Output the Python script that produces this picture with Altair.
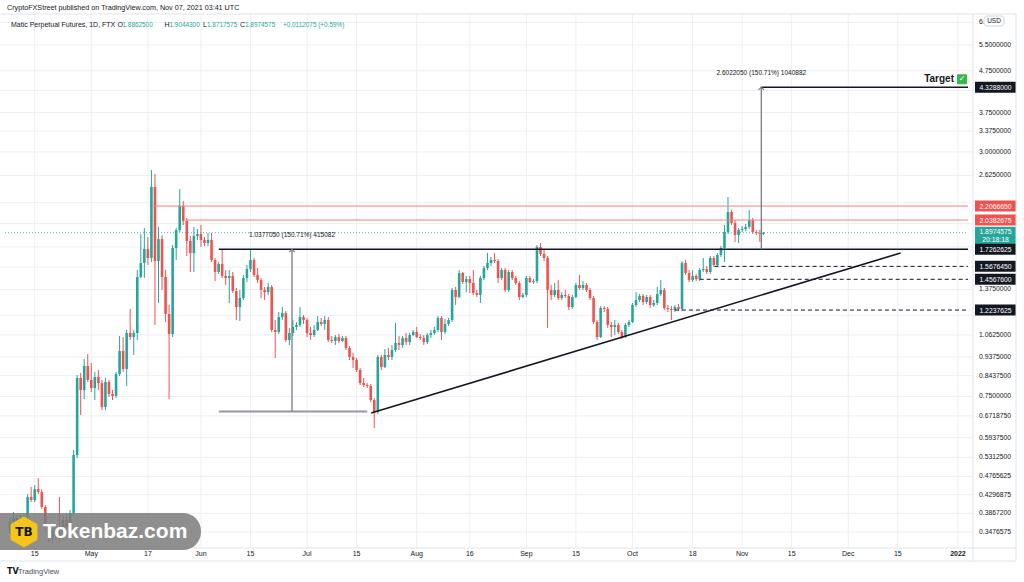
import altair as alt
import pandas as pd

# ---------------- data ----------------
START_DATE = "2021-04-08"
FIRST_OPEN = 0.3517

CLOSE = [
    0.3680, 0.3764, 0.3618, 0.3722, 0.3786, 0.4240, 0.4168, 0.4436, 0.4361, 0.4006,
    0.3577, 0.3360, 0.3517, 0.3438, 0.3360, 0.3722, 0.3577, 0.3873, 0.5380, 0.8325,
    0.7778, 0.8911, 0.8232, 0.7867, 0.8373, 0.8093, 0.7064, 0.8139, 0.7604, 0.7518,
    0.8517, 0.9703, 0.8761, 1.0746, 1.0504, 1.0746, 1.4761, 1.5980, 1.7299, 1.6439,
    2.4585, 1.6162, 1.8308, 1.4761, 1.1968, 1.0685, 1.7398, 1.9267, 2.2074, 2.0275,
    1.8102, 1.6912, 1.8622, 1.8835, 1.8205, 1.7898, 1.8205, 1.6254, 1.5185, 1.5890,
    1.4845, 1.4677, 1.4845, 1.3635, 1.2452, 1.3104, 1.4677, 1.5446, 1.6254, 1.4929,
    1.4512, 1.3712, 1.3557, 1.3947, 1.0930, 1.0807, 1.1766, 1.2036, 1.0327, 1.0746,
    1.1117, 1.1244, 1.1766, 1.1567, 1.0746, 1.0624, 1.0930, 1.1437, 1.1308, 1.1567,
    1.0327, 1.0269, 1.0504, 1.0269, 1.0445, 0.9870, 0.9378, 0.9220, 0.8712, 0.8093,
    0.8002, 0.7957, 0.7349, 0.6866, 0.9378, 0.8861, 0.9485, 0.9378, 0.9758, 1.0153,
    1.0039, 1.0445, 1.0211, 1.0624, 1.0807, 1.0504, 1.0445, 1.0211, 1.0624, 1.0746,
    1.0930, 1.1699, 1.0807, 1.1308, 1.1567, 1.3712, 1.3179, 1.5099, 1.4348, 1.4594,
    1.4267, 1.3481, 1.3329, 1.4677, 1.5534, 1.5980, 1.6254, 1.6162, 1.4677, 1.5358,
    1.3712, 1.5185, 1.4677, 1.4267, 1.3179, 1.3329, 1.4677, 1.4348, 1.4430, 1.7496,
    1.6816, 1.6439, 1.3712, 1.3329, 1.3712, 1.3104, 1.3329, 1.3254, 1.2452, 1.3179,
    1.4106, 1.3868, 1.4106, 1.3712, 1.3104, 1.1437, 1.0504, 1.2382, 1.2312, 1.1244,
    1.1117, 1.1244, 1.0807, 1.0504, 1.1244, 1.1437, 1.2594, 1.2956, 1.3254, 1.2810,
    1.3179, 1.2594, 1.2738, 1.3404, 1.3712, 1.2382, 1.2312, 1.2242, 1.2452, 1.2312,
    1.5980, 1.5099, 1.4512, 1.4845, 1.4594, 1.5358, 1.5446, 1.5185, 1.6439, 1.5800,
    1.6721, 1.7398, 1.9050, 2.1336, 2.0046, 1.8728, 1.9267, 1.9376, 1.9597, 2.0390,
    1.9050, 1.8942, 1.88625, 1.8974575,
]
HIGH = [
    0.3764, 0.3895, 0.3829, 0.3829, 0.3851, 0.4312, 0.4487, 0.4538, 0.4722, 0.4436,
    0.4052, 0.3639, 0.3557, 0.3577, 0.4240, 0.3829, 0.3829, 0.3939, 0.5535, 0.8468,
    0.8565, 0.9272, 0.9539, 0.9065, 0.8614, 0.8712, 0.8232, 0.8325, 0.8232, 0.7778,
    0.8614, 1.0564, 1.0504, 1.0930, 1.2312, 1.0930, 1.5358, 1.8835, 1.9486, 1.8517,
    2.7072, 2.6465, 1.9597, 1.8728, 1.5358, 1.2594, 1.7696, 1.9486, 2.4307, 2.2709,
    2.0622, 1.8622, 1.9597, 1.9376, 1.9820, 1.8517, 1.8942, 1.8942, 1.6439, 1.6071,
    1.7299, 1.5358, 1.5358, 1.5185, 1.3868, 1.3712, 1.4929, 1.5800, 1.7202, 1.6439,
    1.5534, 1.4677, 1.3947, 1.4267, 1.4106, 1.1567, 1.2104, 1.2452, 1.2173, 1.1054,
    1.1567, 1.1437, 1.2452, 1.1900, 1.1699, 1.1117, 1.1244, 1.1833, 1.1699, 1.1833,
    1.1766, 1.0564, 1.0624, 1.0685, 1.0564, 1.0564, 0.9982, 0.9593, 0.9325, 0.8811,
    0.8325, 0.8093, 0.8047, 0.7434, 0.9485, 0.9485, 0.9814, 0.9870, 1.0039, 1.1372,
    1.0564, 1.0564, 1.0746, 1.0746, 1.0930, 1.1117, 1.0685, 1.0624, 1.0746, 1.0930,
    1.1117, 1.1833, 1.1833, 1.1633, 1.1699, 1.3868, 1.3947, 1.5358, 1.5185, 1.4845,
    1.4845, 1.5358, 1.3712, 1.4845, 1.5711, 1.6912, 1.6533, 1.6912, 1.6346, 1.5534,
    1.5534, 1.5358, 1.5358, 1.4845, 1.4430, 1.3481, 1.4845, 1.4845, 1.4594, 1.7696,
    1.7898, 1.7202, 1.6627, 1.4106, 1.4267, 1.4512, 1.3557, 1.3712, 1.3404, 1.3329,
    1.4267, 1.4929, 1.4430, 1.4267, 1.3868, 1.3254, 1.1567, 1.2523, 1.2523, 1.2452,
    1.1437, 1.1567, 1.1372, 1.0930, 1.1372, 1.1567, 1.2738, 1.3557, 1.3404, 1.3404,
    1.3329, 1.3329, 1.2956, 1.3947, 1.4512, 1.3868, 1.2594, 1.2523, 1.2594, 1.2665,
    1.6162, 1.6254, 1.5358, 1.5358, 1.5014, 1.5534, 1.6439, 1.5711, 1.6627, 1.6627,
    1.6912, 1.7596, 1.9820, 2.3229, 2.1579, 2.0390, 1.9486, 1.9708, 1.9933, 2.1579,
    2.0622, 1.9267, 1.9267, 1.90443,
]
LOW = [
    0.3458, 0.3618, 0.3517, 0.3557, 0.3639, 0.3743, 0.4121, 0.4121, 0.4312, 0.3961,
    0.3517, 0.3286, 0.3267, 0.3323, 0.3286, 0.3323, 0.3517, 0.3380, 0.3829, 0.5289,
    0.6750, 0.7392, 0.8139, 0.7690, 0.7349, 0.7778, 0.6944, 0.6944, 0.7476, 0.7349,
    0.7434, 0.8420, 0.8614, 0.7957, 1.0327, 0.9485, 1.0327, 1.4677, 1.4677, 1.5800,
    1.6071, 1.1244, 1.2738, 1.3712, 1.1437, 0.7392, 1.0504, 1.6254, 1.9050, 1.9820,
    1.6627, 1.5185, 1.5185, 1.8205, 1.7496, 1.7596, 1.7596, 1.6071, 1.4430, 1.5014,
    1.4677, 1.4106, 1.2738, 1.3481, 1.1567, 1.1502, 1.2956, 1.4348, 1.5185, 1.4761,
    1.4267, 1.3104, 1.2956, 1.3329, 1.0807, 0.9325, 1.0685, 1.1567, 1.0211, 1.0039,
    1.0564, 1.0930, 1.1117, 1.1308, 1.0504, 1.0327, 1.0504, 1.0868, 1.1180, 1.0930,
    1.0211, 1.0153, 1.0039, 1.0153, 1.0211, 0.9758, 0.9220, 0.8811, 0.8614, 0.8002,
    0.7912, 0.7867, 0.7266, 0.6270, 0.6788, 0.8712, 0.8811, 0.9220, 0.9220, 0.9648,
    0.9758, 0.9870, 1.0039, 1.0039, 1.0564, 1.0445, 1.0327, 1.0039, 1.0095, 1.0445,
    1.0624, 1.0807, 1.0327, 1.0685, 1.1180, 1.1437, 1.2594, 1.3104, 1.4187, 1.3557,
    1.3481, 1.3329, 1.3179, 1.2738, 1.4512, 1.5358, 1.5711, 1.5980, 1.4267, 1.4512,
    1.3557, 1.3557, 1.4512, 1.4106, 1.2956, 1.3104, 1.3179, 1.4267, 1.4187, 1.4267,
    1.6627, 1.6162, 1.1054, 1.2956, 1.3179, 1.2956, 1.2956, 1.3104, 1.2242, 1.2312,
    1.3104, 1.3712, 1.3712, 1.3557, 1.2956, 1.1308, 1.0327, 1.0445, 1.2104, 1.1054,
    1.0504, 1.0624, 1.0685, 1.0386, 1.0445, 1.1117, 1.1372, 1.2452, 1.2810, 1.2594,
    1.2665, 1.2382, 1.2452, 1.2594, 1.3254, 1.2242, 1.2104, 1.1567, 1.2104, 1.2173,
    1.2173, 1.4929, 1.4348, 1.4348, 1.4430, 1.4430, 1.5185, 1.5014, 1.5014, 1.5622,
    1.5711, 1.6533, 1.6071, 1.8835, 1.9820, 1.8000, 1.7898, 1.9050, 1.9158, 1.9376,
    1.8835, 1.8728, 1.8000, 1.8717575,
]

# price-scale ticks (grid) and the ones whose labels stay visible
Y_TICKS = [0.3476575, 0.38672, 0.4296875, 0.4765625, 0.53125, 0.59375, 0.671875,
           0.75, 0.84375, 0.9375, 1.0625, 1.1875, 1.375, 1.5625, 1.75, 2.0, 2.25,
           2.625, 3.0, 3.375, 3.75, 4.25, 4.75, 5.5, 6.25]
Y_HIDDEN = [1.1875, 1.5625, 1.75, 2.0, 2.25, 4.25, 6.25]
X_TICKS = ["2021-04-15", "2021-05-01", "2021-05-17", "2021-06-01", "2021-06-15",
           "2021-07-01", "2021-07-15", "2021-08-01", "2021-08-16", "2021-09-01",
           "2021-09-15", "2021-10-01", "2021-10-18", "2021-11-01", "2021-11-15",
           "2021-12-01", "2021-12-15", "2022-01-01"]
X_LABELS = ["15", "May", "17", "Jun", "15", "Jul", "15", "Aug", "16", "Sep", "15",
            "Oct", "18", "Nov", "15", "Dec", "15", "2022"]

# drawn levels (price, start date)
LEVEL_PRICE = [4.3288, 2.206665, 2.0382675, 1.7262625, 1.567645, 1.45676, 1.2237625]
LEVEL_START = ["2021-11-06T10:00:00Z", "2021-05-18T07:00:00Z", "2021-05-27T12:40:00Z",
               "2021-06-06T01:00:00Z", "2021-10-24T05:00:00Z", "2021-10-20T00:00:00Z",
               "2021-10-13T00:00:00Z"]
LEVEL_KIND = ["black", "red", "red", "black", "dash", "dash", "dash"]
LAST_PRICE = 1.8974575

# price boxes on the scale
BOX_PRICE = [4.3288, 2.206665, 2.0382675, 1.7262625, 1.567645, 1.45676, 1.2237625]
BOX_FILL = ["#131722", "#f0524f", "#f0524f", "#131722", "#131722", "#131722", "#131722"]

# measurement tool
MEAS_DATE = ["2021-06-26T18:00:00Z", "2021-11-06T10:00:00Z"]
MEAS_LO = [0.6885575, 1.7262625]
MEAS_HI = [1.7262625, 4.3288]
MEAS_TEXT = ["1.0377050 (150.71%) 415082", "2.6022050 (150.71%) 1040882"]
MEAS_BASE = ["2021-06-06T01:00:00Z", "2021-07-18T00:00:00Z"]

# rising trendline
TREND_DATE = ["2021-07-19T03:00:00Z", "2021-12-15T19:00:00Z"]
TREND_PRICE = [0.6827, 1.6912]

BEGIN = "2021-04-06T14:33:00Z"
END = "2022-01-03T20:24:00Z"

UP, DOWN, DARK, TEAL = "#26a69a", "#ef5350", "#131722", "#26a69a"
GRID = "#eceff4"
FONT = "Liberation Sans"
W, H = 973, 534

# ---------------- tables ----------------
dates = pd.date_range(START_DATE, periods=len(CLOSE), freq="D")
opens = [FIRST_OPEN] + CLOSE[:-1]
candles = pd.DataFrame({"date": dates.strftime("%Y-%m-%dT00:00:00Z"), "open": opens,
                        "close": CLOSE, "high": HIGH, "low": LOW})
candles["high"] = candles[["high", "open", "close"]].max(axis=1)
candles["low"] = candles[["low", "open", "close"]].min(axis=1)
candles["dir"] = (candles["close"] >= candles["open"]).map({True: "up", False: "down"})

levels = pd.DataFrame({"price": LEVEL_PRICE, "start": LEVEL_START, "end": END, "kind": LEVEL_KIND})
boxes = pd.DataFrame({"price": BOX_PRICE, "fill": BOX_FILL})
boxes["label"] = boxes["price"].map(lambda v: f"{v:.7f}")
last = pd.DataFrame({"price": [LAST_PRICE], "start": [BEGIN], "end": [END],
                     "label": [f"{LAST_PRICE:.7f}"], "timer": ["20:18:18"]})
meas = pd.DataFrame({"date": MEAS_DATE, "lo": MEAS_LO, "hi": MEAS_HI, "text": MEAS_TEXT})
base = pd.DataFrame({"start": [MEAS_BASE[0]], "end": [MEAS_BASE[1]], "price": [MEAS_LO[0]]})
trend = pd.DataFrame({"date": TREND_DATE, "price": TREND_PRICE})
yticks = pd.DataFrame({"price": Y_TICKS, "label": [f"{v:.7f}" for v in Y_TICKS]})
yticks["show"] = ~yticks["price"].isin(Y_HIDDEN)
xticks = pd.DataFrame({"date": [d + "T00:00:00Z" for d in X_TICKS], "label": X_LABELS})
xticks["bold"] = xticks["label"].str.len() == 4


def dt(s):
    t = pd.Timestamp(s)
    return alt.DateTime(year=t.year, month=t.month, date=t.day, hours=t.hour,
                        minutes=t.minute, utc=True)


xs = alt.Scale(type="utc", domain=[dt(BEGIN), dt(END)])
ys = alt.Scale(type="log", domain=[0.3176, 6.555])


def X(f):
    return alt.X(f, scale=xs, axis=None)


def Y(f):
    return alt.Y(f, scale=ys, axis=None)


# grid + scale labels (drawn by hand so that the price boxes can hide some)
grid_h = alt.Chart(yticks).mark_rule(color=GRID, strokeWidth=1).encode(
    x=alt.value(0), x2=alt.value(W), y=Y("price:Q"))
grid_v = alt.Chart(xticks).mark_rule(color=GRID, strokeWidth=1).encode(
    x=X("date:T"), y=alt.value(0), y2=alt.value(H))
ylabels = alt.Chart(yticks).transform_filter("datum.show").mark_text(
    align="left", baseline="middle", fontSize=6.8, color=DARK, font=FONT).encode(
    x=alt.value(W + 6), y=Y("price:Q"), text="label:N")
xlabels = alt.Chart(xticks).transform_filter("!datum.bold").mark_text(
    align="center", baseline="middle", fontSize=7, color=DARK, font=FONT).encode(
    x=X("date:T"), y=alt.value(H + 6), text="label:N")
xlabels_b = alt.Chart(xticks).transform_filter("datum.bold").mark_text(
    align="center", baseline="middle", fontSize=7, color=DARK, font=FONT,
    fontWeight="bold").encode(x=X("date:T"), y=alt.value(H + 6), text="label:N")

color_dir = alt.Color("dir:N", scale=alt.Scale(domain=["up", "down"], range=[UP, DOWN]), legend=None)

wick = alt.Chart(candles).mark_rule(strokeWidth=1).encode(
    x=X("date:T"), y=Y("low:Q"), y2="high:Q", color=color_dir)
body = alt.Chart(candles).mark_bar(size=2.6).encode(
    x=X("date:T"), y=Y("open:Q"), y2="close:Q", color=color_dir)


def hline(kind, **mk):
    return alt.Chart(levels).transform_filter(alt.datum.kind == kind).mark_rule(**mk).encode(
        x=X("start:T"), x2="end:T", y=Y("price:Q"))


red_lines = hline("red", color="#f77c80", strokeWidth=1)
black_lines = hline("black", color="#131722", strokeWidth=1.5)
dash_lines = hline("dash", color="#131722", strokeWidth=1, strokeDash=[4, 3])

last_line = alt.Chart(last).mark_rule(color=TEAL, strokeWidth=1, strokeDash=[1, 2], opacity=0.8).encode(
    x=X("start:T"), x2="end:T", y=Y("price:Q"))

trend_line = alt.Chart(trend).mark_line(color="#131722", strokeWidth=1.6).encode(
    x=X("date:T"), y=Y("price:Q"))

meas_rule = alt.Chart(meas).mark_rule(color="#787b86", strokeWidth=1.3).encode(
    x=X("date:T"), y=Y("lo:Q"), y2="hi:Q")
meas_head = alt.Chart(meas).mark_point(shape="M-1,1L0,0L1,1", filled=False, size=30,
                                       strokeWidth=1.2, color="#787b86", opacity=1).encode(
    x=X("date:T"), y=Y("hi:Q"))
meas_text = alt.Chart(meas).mark_text(fontSize=6.5, color=DARK, dy=-14, font=FONT).encode(
    x=X("date:T"), y=Y("hi:Q"), text="text:N")
meas_base = alt.Chart(base).mark_rule(color="#9598a1", strokeWidth=1.8).encode(
    x=X("start:T"), x2="end:T", y=Y("price:Q"))

last_rect = alt.Chart(last).mark_rect(yOffset=-6, y2Offset=11.5, color=TEAL).encode(
    x=alt.value(W + 2), x2=alt.value(1016), y=Y("price:Q"), y2="price:Q")
last_text = alt.Chart(last).mark_text(color="white", fontSize=6.8, font=FONT, dy=-0.5).encode(
    x=alt.value(995.5), y=Y("price:Q"), text="label:N")
last_timer = alt.Chart(last).mark_text(color="white", fontSize=6.8, font=FONT, dy=7).encode(
    x=alt.value(995.5), y=Y("price:Q"), text="timer:N")
box_rect = alt.Chart(boxes).mark_rect(yOffset=-5.5, y2Offset=5.5).encode(
    x=alt.value(W + 2), x2=alt.value(1016), y=Y("price:Q"), y2="price:Q",
    color=alt.Color("fill:N", scale=None))
box_text = alt.Chart(boxes).mark_text(color="white", fontSize=6.8, font=FONT, dy=0.5).encode(
    x=alt.value(995.5), y=Y("price:Q"), text="label:N")

target_text = alt.Chart(boxes.iloc[:1]).mark_text(
    text="Target", fontSize=10, fontWeight="bold", color=DARK, align="right", dy=-8, font=FONT).encode(
    x=alt.value(954), y=Y("price:Q"))
target_box = alt.Chart(boxes.iloc[:1]).mark_rect(color="#39b54a", yOffset=-13, y2Offset=-3,
                                                  cornerRadius=1).encode(
    x=alt.value(957), x2=alt.value(967), y=Y("price:Q"), y2="price:Q")
target_tick = alt.Chart(boxes.iloc[:1]).mark_text(
    text="✓", fontSize=8, fontWeight="bold", color="white", dy=-8, font="DejaVu Sans").encode(
    x=alt.value(962), y=Y("price:Q"))

one = pd.DataFrame({"a": [0]})


def txt(s, x, y, size=7, color=DARK, weight="normal", align="left", font=FONT):
    return alt.Chart(one).mark_text(text=s, align=align, baseline="middle", fontSize=size,
                                    color=color, fontWeight=weight, font=font).encode(
        x=alt.value(x), y=alt.value(y))


def box(x1, x2, y1, y2, **mk):
    return alt.Chart(one).mark_rect(**mk).encode(
        x=alt.value(x1), x2=alt.value(x2), y=alt.value(y1), y2=alt.value(y2))


def rule(x1, x2, y1, y2, **mk):
    return alt.Chart(one).mark_rule(**mk).encode(
        x=alt.value(x1), x2=alt.value(x2), y=alt.value(y1), y2=alt.value(y2))


header = [
    txt("CryptoFXStreet published on TradingView.com, Nov 07, 2021 03:41 UTC", 7, -6, size=7.2),
    txt("Matic Perpetual Futures, 1D, FTX", 11, 11, size=7),
    txt("O", 117.5, 11), txt("1.8862500", 122.5, 11, size=6.4, color=TEAL),
    txt("H", 164.5, 11), txt("1.9044300", 169.5, 11, size=6.4, color=TEAL),
    txt("L", 203, 11), txt("1.8717575", 207, 11, size=6.4, color=TEAL),
    txt("C", 240, 11), txt("1.8974575", 245, 11, size=6.4, color=TEAL),
    txt("+0.0112075 (+0.59%)", 283, 11, size=6.4, color=TEAL),
]
frame = [
    rule(0, 1016, 0, 0, color="#e0e3eb"),
    rule(1016, 1016, 0, 547, color="#e0e3eb"),
    rule(W, W, 0, 547, color="#e0e3eb"),
    rule(0, 1016, H, H, color="#e0e3eb"),
    rule(0, 1016, 547, 547, color="#e0e3eb"),
    txt("6.2", W + 6, 8.4, size=6.8),
    box(984, 1004, 2, 12, fill="white", stroke="#d1d4dc", cornerRadius=3),
    txt("USD", 994, 7, size=6.5, align="center"),
]
footer = [
    txt("TV", 7, 558, size=8, weight="bold", font="DejaVu Sans"),
    txt("TradingView", 18, 558, size=7.5, color="#4a4e59"),
]
watermark = [
    box(-20, 201, 499, 536, fill="#7b7b7b", opacity=0.85, cornerRadius=18),
    alt.Chart(one).mark_point(shape="M0,-1L0.866,-0.5L0.866,0.5L0,1L-0.866,0.5L-0.866,-0.5Z",
                              filled=True, size=960, color="#f5c518", opacity=1).encode(
        x=alt.value(24), y=alt.value(518)),
    txt("TB", 24, 518, size=12, weight="bold", align="center", font="DejaVu Sans"),
    txt("Tokenbaz.com", 43, 518, size=21, color="white", weight="bold", font=FONT),
]

chart = alt.layer(
    grid_h, grid_v, ylabels, xlabels, xlabels_b,
    wick, body, last_line, red_lines, black_lines, dash_lines, trend_line,
    meas_base, meas_rule, meas_head, meas_text,
    last_rect, last_text, last_timer, box_rect, box_text,
    target_text, target_box, target_tick,
    *header, *frame, *footer, *watermark,
).properties(
    width=W, height=H,
    padding={"left": 0, "top": 14, "right": 51, "bottom": 34},
    autosize=alt.AutoSizeParams(type="none"),
    background="white",
).configure(font=FONT).configure_view(stroke=None)

chart.save("out.html", embed_options={"renderer": "svg", "actions": False})
